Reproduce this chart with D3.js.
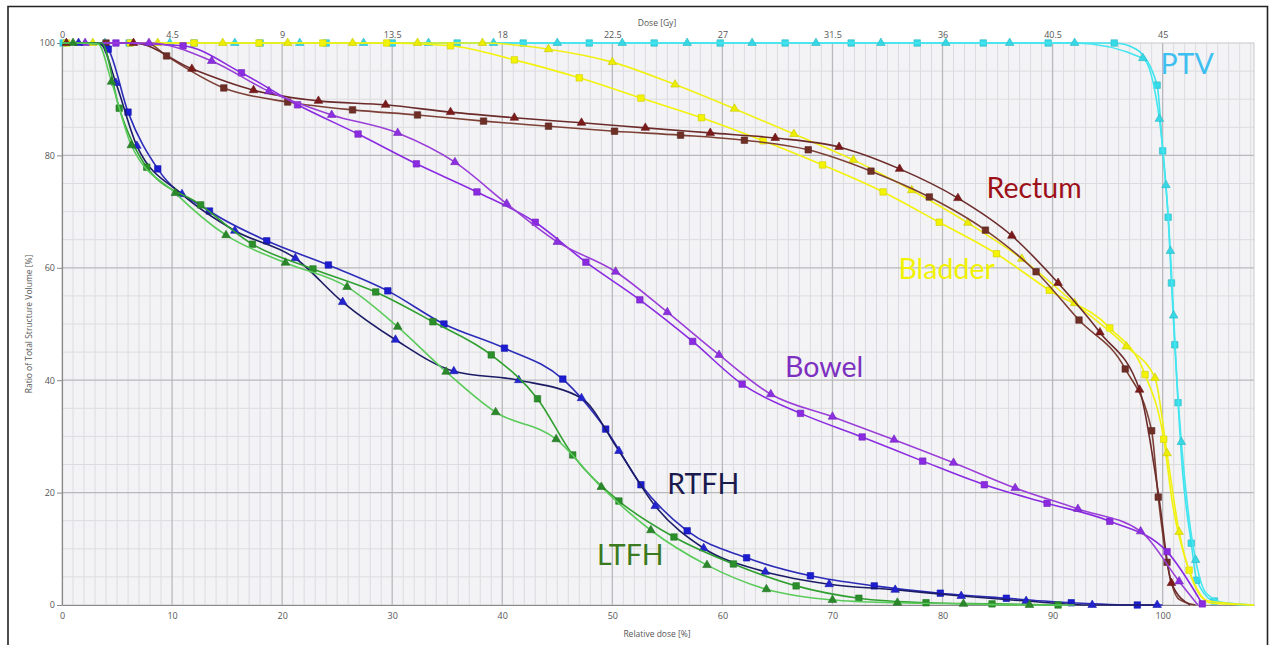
<!DOCTYPE html>
<html>
<head>
<meta charset="utf-8">
<script src="https://cdn.jsdelivr.net/npm/d3@7"></script>
<style>
  html, body { margin: 0; padding: 0; background: #ffffff; }
  svg { display: block; }
</style>
</head>
<body>
<svg id="chart" width="1272" height="645"></svg>
<script>
// Dose-volume histogram: relative dose [%] vs. ratio of total structure volume [%]
// Each structure has two plans: one drawn with square markers, one with triangle markers.
// Points are [relative dose %, volume %] ; a third element 0 means "no marker at this point".

const relDoseTicks = [0, 10, 20, 30, 40, 50, 60, 70, 80, 90, 100];
const gyTicks = [0, 4.5, 9, 13.5, 18, 22.5, 27, 31.5, 36, 40.5, 45];
const volumeTicks = [0, 20, 40, 60, 80, 100];
const prescriptionGy = 45;

const ptvSquare = [[0.1,100],[6.1,100],[12.0,100],[18.0,100],[24.0,100],[30.0,100],[35.9,100],[41.9,100],
  [47.9,100],[53.8,100],[59.8,100],[65.7,100],[71.7,100],[77.7,100],[83.7,100],[89.6,100],[95.6,100],
  [97.6,98.9,0],[99.5,92.5],[100.0,80.8],[100.5,69.0],[100.8,57.3],[101.1,46.3],[101.4,36.0],
  [101.8,24.0,0],[102.6,11.0],[103.1,4.4],[104.7,0.7],[108.3,0,0]];
const ptvTriangle = [[0,100,0],[3.9,100],[9.8,100],[15.7,100],[21.6,100],[27.4,100],[33.3,100],[39.2,100],
  [45.0,100],[50.9,100],[56.8,100],[62.7,100],[68.5,100],[74.4,100],[80.3,100],[86.1,100],[92.0,100],
  [98.2,97.3],[99.7,86.5],[100.3,74.7],[100.7,63.0],[101.0,51.5],[101.3,40.0,0],[101.7,29.0],
  [102.3,17.0,0],[103.0,8.0],[104.0,2.0,0],[106.0,0.2,0],[108.3,0,0]];

const bladderSquare = [[0.4,100],[6.2,100],[12.0,100],[17.9,100],[23.7,100],[29.5,100],[35.3,99.5],
  [41.1,97.0],[47.0,93.8],[52.6,90.2],[58.1,86.7],[63.7,82.6],[69.1,78.3],[74.6,73.5],[79.7,68.1],
  [84.9,62.5],[89.7,56.0],[95.2,49.3],[98.4,41.0],[100.1,29.5],[100.9,18.0,0],[102.4,6.2],
  [104.5,0.3,0],[108.3,0,0]];
const bladderTriangle = [[0,100,0],[2.8,100],[8.7,100],[14.6,100],[20.5,100],[26.4,100],[32.3,100],[38.2,100],
  [44.2,98.9],[50.0,96.6],[55.7,92.6],[61.1,88.3],[66.5,83.8],[71.9,79.2],[77.2,73.8],[82.3,68.0],
  [87.2,61.6],[92.0,53.7],[96.7,46.0],[99.3,40.4],[100.4,27.0],[101.5,13.0],[102.6,5.0,0],
  [104.0,0.8,0],[108.3,0,0]];

const rectumSquare = [[0,100,0],[4.0,100],[7.8,99.9,0],[9.5,97.7],[14.7,92.0],[20.5,89.5],[26.4,88.1],
  [32.3,87.2],[38.3,86.1],[44.2,85.2],[50.2,84.3],[56.2,83.6],[62.0,82.7],[67.8,81.0],[73.5,77.2],
  [78.8,72.6],[83.9,66.7],[88.5,59.3],[92.4,50.7],[96.6,42.0],[99.0,31.0],[99.6,19.2],[100.4,7.6],
  [101.5,1.0,0],[103.0,0,0]];
const rectumTriangle = [[0.4,100],[6.5,100],[11.8,95.4],[17.4,91.6],[23.3,89.7],[29.4,89.0],[35.3,87.7],
  [41.1,86.7],[47.2,85.8],[53.0,84.9],[58.9,84.0],[64.8,83.1],[70.6,81.5],[76.1,77.6],[81.4,72.4],
  [86.3,65.7],[90.5,57.3],[94.3,48.5],[97.9,38.3],[99.6,20.0,0],[100.8,3.9],[102.5,0,0]];

const bowelSquare = [[0,100,0],[4.9,100],[11.0,99.5],[16.3,94.7],[21.4,89.0],[26.9,83.8],[32.2,78.5],
  [37.7,73.5],[43.0,68.1],[47.6,61.0],[52.5,54.3],[57.3,46.9],[61.8,39.3],[67.1,34.1],[72.7,29.9],
  [78.2,25.6],[83.8,21.4],[89.5,18.1],[95.2,14.9],[100.4,9.5],[103.6,0.2]];
const bowelTriangle = [[0,100,0],[2.1,100],[7.9,100],[13.6,96.8],[18.8,91.4],[24.5,87.2],[30.5,84.0],
  [35.7,78.8],[40.4,71.4],[45.0,64.6],[50.3,59.3],[55.0,52.1],[59.7,44.5],[64.4,37.5],[70.0,33.5],
  [75.6,29.4],[81.0,25.3],[86.6,20.8],[92.3,17.1],[98.0,13.1],[101.5,4.2],[103.2,0,0]];

const rtfhSquare = [[0,100,0],[3.4,100,0],[4.2,98.9],[6.0,87.7],[8.7,77.6],[13.4,70.1],[18.6,64.8],
  [24.2,60.5],[29.6,55.9],[34.7,50.0],[40.2,45.7],[45.5,40.2],[49.4,31.3],[52.6,21.4],[56.8,13.2],
  [62.2,8.4],[68.0,5.2],[73.8,3.4],[79.8,2.1],[85.8,1.2],[91.7,0.4],[97.7,0],[100.0,0,0]];
const rtfhTriangle = [[0,100,0],[1.5,100],[3.5,99.8,0],[4.9,92.9],[6.8,81.7],[10.9,73.1],[15.7,66.6],
  [21.2,61.7],[25.5,53.9],[30.3,47.2],[35.6,41.6],[41.5,40.0],[47.2,36.8],[50.6,27.4],[53.9,17.6],
  [58.3,10.1],[63.9,5.9],[69.7,3.7],[75.7,2.7],[81.7,1.6],[87.6,0.7],[93.6,0],[99.5,0]];

const ltfhSquare = [[0,100,0],[3.6,100,0],[5.2,88.4],[7.7,77.9],[12.6,71.2],[17.3,64.2],[22.8,59.8],
  [28.5,55.7],[33.7,50.4],[39.0,44.5],[43.2,36.7],[46.4,26.7],[50.6,18.5],[55.6,12.1],[61.0,7.3],
  [66.7,3.4],[72.4,1.2],[78.5,0.4],[84.5,0.2],[90.5,0]];
const ltfhTriangle = [[0,100,0],[1.0,100],[3.3,99.8,0],[4.5,93.1],[6.3,81.8],[10.3,73.3],[14.9,65.8],
  [20.3,60.9],[25.9,56.6],[30.5,49.5],[34.9,41.5],[39.4,34.3],[44.9,29.5],[49.0,21.0],[53.5,13.3],
  [58.6,7.1],[64.0,2.8],[70.0,0.9],[75.9,0.4],[81.9,0.2],[87.9,0],[92.0,0,0]];

// draw order: first is at the bottom
const series = [
  { name: "PTV square",   pts: ptvSquare,      shape: "square",   line: "#3fe3ee", fill: "#36dbe8" },
  { name: "PTV tri",      pts: ptvTriangle,    shape: "triangle", line: "#44e6f0", fill: "#36d8e6" },
  { name: "Bladder sq",   pts: bladderSquare,  shape: "square",   line: "#f2f20a", fill: "#f4f400" },
  { name: "Bladder tri",  pts: bladderTriangle,shape: "triangle", line: "#f0f014", fill: "#eded00" },
  { name: "Rectum sq",    pts: rectumSquare,   shape: "square",   line: "#7d4036", fill: "#6e2f27" },
  { name: "Rectum tri",   pts: rectumTriangle, shape: "triangle", line: "#6c2b2b", fill: "#7a1a1a" },
  { name: "Bowel sq",     pts: bowelSquare,    shape: "square",   line: "#8a2be2", fill: "#8a2be2" },
  { name: "Bowel tri",    pts: bowelTriangle,  shape: "triangle", line: "#9a3fd8", fill: "#8b2fe0" },
  { name: "RTFH sq",      pts: rtfhSquare,     shape: "square",   line: "#2c2cb8", fill: "#1c1cd0" },
  { name: "RTFH tri",     pts: rtfhTriangle,   shape: "triangle", line: "#1c1c66", fill: "#2323d0" },
  { name: "LTFH sq",      pts: ltfhSquare,     shape: "square",   line: "#2f9f2f", fill: "#2b8f2b" },
  { name: "LTFH tri",     pts: ltfhTriangle,   shape: "triangle", line: "#5acb5a", fill: "#2a882a" }
];

const structureLabels = [
  { text: "PTV",     dose: 99.8, vol: 94.5, color: "#3fbff0" },
  { text: "Rectum",  dose: 84.0, vol: 72.5, color: "#9e1018" },
  { text: "Bladder", dose: 76.0, vol: 58.0, color: "#f2f200" },
  { text: "Bowel",   dose: 65.7, vol: 40.5, color: "#7d30c0" },
  { text: "RTFH",    dose: 55.0, vol: 19.7, color: "#1a1a4e" },
  { text: "LTFH",    dose: 48.6, vol: 7.1,  color: "#3b7a1e" }
];

const svg = d3.select("#chart");
const W = 1272, H = 645;
const plot = { left: 62, right: 1254, top: 43, bottom: 605 };
const maxRel = 108.3;

const x = d3.scaleLinear().domain([0, maxRel]).range([plot.left, plot.right]);
const xGy = d3.scaleLinear().domain([0, maxRel * prescriptionGy / 100]).range([plot.left, plot.right]);
const y = d3.scaleLinear().domain([0, 100]).range([plot.bottom, plot.top]);

const font = "'Open Sans', 'Noto Sans', sans-serif";

// outer frame
svg.append("rect").attr("x", 0).attr("y", 0).attr("width", W).attr("height", H).attr("fill", "#fff");
svg.append("path")
  .attr("d", `M8,${H + 5} V6.5 H1267.5 V${H + 5}`)
  .attr("fill", "none").attr("stroke", "#222").attr("stroke-width", 1.6);

// plot background
svg.append("rect")
  .attr("x", plot.left).attr("y", plot.top)
  .attr("width", plot.right - plot.left).attr("height", plot.bottom - plot.top)
  .attr("fill", "#f3f3f5");

const grid = svg.append("g");
// minor verticals every 1 %
grid.selectAll("line.vmin").data(d3.range(1, Math.floor(maxRel) + 1).filter(d => d % 10 !== 0))
  .join("line")
  .attr("x1", d => x(d)).attr("x2", d => x(d))
  .attr("y1", plot.top).attr("y2", plot.bottom)
  .attr("stroke", "#dcdce0").attr("stroke-width", 1);
// minor horizontals every 5 %
grid.selectAll("line.hmin").data(d3.range(5, 100, 5).filter(d => d % 20 !== 0))
  .join("line")
  .attr("x1", plot.left).attr("x2", plot.right)
  .attr("y1", d => y(d)).attr("y2", d => y(d))
  .attr("stroke", "#dcdce0").attr("stroke-width", 1);
// major grid
grid.selectAll("line.vmaj").data(relDoseTicks.filter(d => d > 0))
  .join("line")
  .attr("x1", d => x(d)).attr("x2", d => x(d))
  .attr("y1", plot.top).attr("y2", plot.bottom)
  .attr("stroke", "#b9b9bd").attr("stroke-width", 1.3);
grid.selectAll("line.hmaj").data(volumeTicks.filter(d => d > 0 && d < 100))
  .join("line")
  .attr("x1", plot.left).attr("x2", plot.right)
  .attr("y1", d => y(d)).attr("y2", d => y(d))
  .attr("stroke", "#b9b9bd").attr("stroke-width", 1.3);
// plot border
svg.append("rect")
  .attr("x", plot.left).attr("y", plot.top)
  .attr("width", plot.right - plot.left).attr("height", plot.bottom - plot.top)
  .attr("fill", "none").attr("stroke", "#c8c8cc").attr("stroke-width", 1);

// axes
function styleAxis(g) {
  g.select(".domain").attr("stroke", "#8a8a8a").attr("stroke-width", 1.2);
  g.selectAll(".tick line").attr("stroke", "#8a8a8a");
  g.selectAll(".tick text").attr("fill", "#555").attr("font-family", font).attr("font-size", 9);
}
svg.append("g")
  .attr("transform", `translate(0,${plot.bottom})`)
  .call(d3.axisBottom(x).tickValues(relDoseTicks).tickSize(0).tickPadding(8).tickSizeOuter(0))
  .call(styleAxis);
svg.append("g")
  .attr("transform", `translate(${plot.left},0)`)
  .call(d3.axisLeft(y).tickValues(volumeTicks).tickSize(5).tickPadding(2).tickSizeOuter(0))
  .call(styleAxis);
const topAxis = svg.append("g")
  .attr("transform", `translate(0,${plot.top})`)
  .call(d3.axisTop(xGy).tickValues(gyTicks).tickFormat(d3.format("")).tickSize(0).tickPadding(5).tickSizeOuter(0))
  .call(styleAxis);
topAxis.select(".domain").remove();

// axis titles
svg.append("text").attr("x", 657).attr("y", 26).attr("text-anchor", "middle")
  .attr("font-family", font).attr("font-size", 8.5).attr("fill", "#555").text("Dose [Gy]");
svg.append("text").attr("x", 657).attr("y", 637).attr("text-anchor", "middle")
  .attr("font-family", font).attr("font-size", 8.5).attr("fill", "#555").text("Relative dose [%]");
svg.append("text")
  .attr("transform", `translate(32,${(plot.top + plot.bottom) / 2}) rotate(-90)`)
  .attr("text-anchor", "middle")
  .attr("font-family", font).attr("font-size", 8.5).attr("fill", "#555")
  .text("Ratio of Total Structure Volume [%]");

// curves
const lineGen = d3.line()
  .x(d => x(d[0])).y(d => y(d[1]))
  .curve(d3.curveMonotoneX);

const sym = {
  square: d3.symbol().type(d3.symbolSquare).size(42),
  triangle: d3.symbol().type(d3.symbolTriangle).size(32)
};

const layer = svg.append("g");
series.forEach(s => {
  const g = layer.append("g");
  g.append("path")
    .attr("d", lineGen(s.pts))
    .attr("fill", "none")
    .attr("stroke", s.line)
    .attr("stroke-width", 1.6);
  g.selectAll("path.mk")
    .data(s.pts.filter(p => p[2] !== 0))
    .join("path")
    .attr("transform", p => `translate(${x(p[0])},${y(p[1])})`)
    .attr("d", sym[s.shape])
    .attr("fill", s.fill)
    .attr("stroke", d3.color(s.fill).darker(0.5))
    .attr("stroke-width", 0.6);
});

// structure names
svg.append("g").selectAll("text")
  .data(structureLabels)
  .join("text")
  .attr("x", d => x(d.dose)).attr("y", d => y(d.vol))
  .attr("font-family", "Lato, 'Open Sans', sans-serif")
  .attr("font-size", 28.5)
  .attr("fill", d => d.color)
  .text(d => d.text);
</script>
</body>
</html>
